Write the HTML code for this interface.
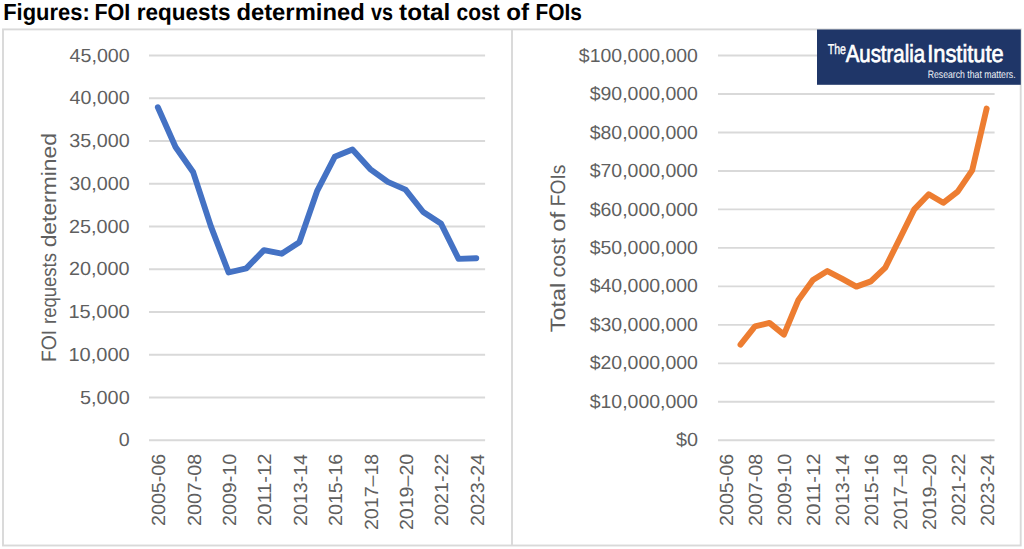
<!DOCTYPE html><html><head><meta charset="utf-8"><style>html,body{margin:0;padding:0;background:#fff;width:1024px;height:549px;overflow:hidden}svg{display:block}text{font-family:"Liberation Sans",sans-serif;text-rendering:geometricPrecision}</style></head><body>
<svg width="1024" height="549" viewBox="0 0 1024 549">
<rect x="0" y="0" width="1024" height="549" fill="#fff"/>
<text x="3.23" y="20.20" font-size="23.4" font-weight="bold" fill="#000" textLength="86.48" lengthAdjust="spacingAndGlyphs">Figures:</text>
<text x="94.46" y="20.20" font-size="23.4" font-weight="bold" fill="#000" textLength="35.88" lengthAdjust="spacingAndGlyphs">FOI</text>
<text x="136.72" y="20.20" font-size="23.4" font-weight="bold" fill="#000" textLength="93.81" lengthAdjust="spacingAndGlyphs">requests</text>
<text x="236.42" y="20.20" font-size="23.4" font-weight="bold" fill="#000" textLength="128.35" lengthAdjust="spacingAndGlyphs">determined</text>
<text x="370.92" y="20.20" font-size="23.4" font-weight="bold" fill="#000" textLength="21.99" lengthAdjust="spacingAndGlyphs">vs</text>
<text x="399.10" y="20.20" font-size="23.4" font-weight="bold" fill="#000" textLength="51.21" lengthAdjust="spacingAndGlyphs">total</text>
<text x="456.58" y="20.20" font-size="23.4" font-weight="bold" fill="#000" textLength="43.07" lengthAdjust="spacingAndGlyphs">cost</text>
<text x="506.26" y="20.20" font-size="23.4" font-weight="bold" fill="#000" textLength="22.80" lengthAdjust="spacingAndGlyphs">of</text>
<text x="535.51" y="20.20" font-size="23.4" font-weight="bold" fill="#000" textLength="46.35" lengthAdjust="spacingAndGlyphs">FOIs</text>
<rect x="3.0" y="29.4" width="1017.7" height="516.1" fill="#fff" stroke="#d9d9d9" stroke-width="1.9"/>
<line x1="512" y1="29.4" x2="512" y2="545.5" stroke="#d9d9d9" stroke-width="1.9"/>
<line x1="149.0" y1="440.30" x2="485.1" y2="440.30" stroke="#d9d9d9" stroke-width="1.9"/>
<text x="118.72" y="446.40" font-size="19" fill="#5f5f5f" textLength="10.95" lengthAdjust="spacingAndGlyphs">0</text>
<line x1="149.0" y1="397.54" x2="485.1" y2="397.54" stroke="#d9d9d9" stroke-width="1.9"/>
<text x="80.04" y="403.64" font-size="19" fill="#5f5f5f" textLength="49.63" lengthAdjust="spacingAndGlyphs">5,000</text>
<line x1="149.0" y1="354.79" x2="485.1" y2="354.79" stroke="#d9d9d9" stroke-width="1.9"/>
<text x="68.50" y="360.89" font-size="19" fill="#5f5f5f" textLength="61.18" lengthAdjust="spacingAndGlyphs">10,000</text>
<line x1="149.0" y1="312.03" x2="485.1" y2="312.03" stroke="#d9d9d9" stroke-width="1.9"/>
<text x="68.50" y="318.13" font-size="19" fill="#5f5f5f" textLength="61.18" lengthAdjust="spacingAndGlyphs">15,000</text>
<line x1="149.0" y1="269.28" x2="485.1" y2="269.28" stroke="#d9d9d9" stroke-width="1.9"/>
<text x="69.03" y="275.38" font-size="19" fill="#5f5f5f" textLength="60.64" lengthAdjust="spacingAndGlyphs">20,000</text>
<line x1="149.0" y1="226.52" x2="485.1" y2="226.52" stroke="#d9d9d9" stroke-width="1.9"/>
<text x="69.03" y="232.62" font-size="19" fill="#5f5f5f" textLength="60.64" lengthAdjust="spacingAndGlyphs">25,000</text>
<line x1="149.0" y1="183.77" x2="485.1" y2="183.77" stroke="#d9d9d9" stroke-width="1.9"/>
<text x="69.28" y="189.87" font-size="19" fill="#5f5f5f" textLength="60.40" lengthAdjust="spacingAndGlyphs">30,000</text>
<line x1="149.0" y1="141.01" x2="485.1" y2="141.01" stroke="#d9d9d9" stroke-width="1.9"/>
<text x="69.28" y="147.11" font-size="19" fill="#5f5f5f" textLength="60.40" lengthAdjust="spacingAndGlyphs">35,000</text>
<line x1="149.0" y1="98.26" x2="485.1" y2="98.26" stroke="#d9d9d9" stroke-width="1.9"/>
<text x="69.58" y="104.36" font-size="19" fill="#5f5f5f" textLength="60.09" lengthAdjust="spacingAndGlyphs">40,000</text>
<line x1="149.0" y1="55.50" x2="485.1" y2="55.50" stroke="#d9d9d9" stroke-width="1.9"/>
<text x="69.58" y="61.60" font-size="19" fill="#5f5f5f" textLength="60.09" lengthAdjust="spacingAndGlyphs">45,000</text>
<line x1="718.0" y1="440.30" x2="994.6" y2="440.30" stroke="#d9d9d9" stroke-width="1.9"/>
<text x="675.97" y="446.40" font-size="19" fill="#5f5f5f" textLength="22.01" lengthAdjust="spacingAndGlyphs">$0</text>
<line x1="718.0" y1="401.82" x2="994.6" y2="401.82" stroke="#d9d9d9" stroke-width="1.9"/>
<text x="589.66" y="407.92" font-size="19" fill="#5f5f5f" textLength="108.30" lengthAdjust="spacingAndGlyphs">$10,000,000</text>
<line x1="718.0" y1="363.34" x2="994.6" y2="363.34" stroke="#d9d9d9" stroke-width="1.9"/>
<text x="589.66" y="369.44" font-size="19" fill="#5f5f5f" textLength="108.30" lengthAdjust="spacingAndGlyphs">$20,000,000</text>
<line x1="718.0" y1="324.86" x2="994.6" y2="324.86" stroke="#d9d9d9" stroke-width="1.9"/>
<text x="589.66" y="330.96" font-size="19" fill="#5f5f5f" textLength="108.30" lengthAdjust="spacingAndGlyphs">$30,000,000</text>
<line x1="718.0" y1="286.38" x2="994.6" y2="286.38" stroke="#d9d9d9" stroke-width="1.9"/>
<text x="589.66" y="292.48" font-size="19" fill="#5f5f5f" textLength="108.30" lengthAdjust="spacingAndGlyphs">$40,000,000</text>
<line x1="718.0" y1="247.90" x2="994.6" y2="247.90" stroke="#d9d9d9" stroke-width="1.9"/>
<text x="589.66" y="254.00" font-size="19" fill="#5f5f5f" textLength="108.30" lengthAdjust="spacingAndGlyphs">$50,000,000</text>
<line x1="718.0" y1="209.42" x2="994.6" y2="209.42" stroke="#d9d9d9" stroke-width="1.9"/>
<text x="589.66" y="215.52" font-size="19" fill="#5f5f5f" textLength="108.30" lengthAdjust="spacingAndGlyphs">$60,000,000</text>
<line x1="718.0" y1="170.94" x2="994.6" y2="170.94" stroke="#d9d9d9" stroke-width="1.9"/>
<text x="589.66" y="177.04" font-size="19" fill="#5f5f5f" textLength="108.30" lengthAdjust="spacingAndGlyphs">$70,000,000</text>
<line x1="718.0" y1="132.46" x2="994.6" y2="132.46" stroke="#d9d9d9" stroke-width="1.9"/>
<text x="589.66" y="138.56" font-size="19" fill="#5f5f5f" textLength="108.30" lengthAdjust="spacingAndGlyphs">$80,000,000</text>
<line x1="718.0" y1="93.98" x2="994.6" y2="93.98" stroke="#d9d9d9" stroke-width="1.9"/>
<text x="589.66" y="100.08" font-size="19" fill="#5f5f5f" textLength="108.30" lengthAdjust="spacingAndGlyphs">$90,000,000</text>
<line x1="718.0" y1="55.50" x2="994.6" y2="55.50" stroke="#d9d9d9" stroke-width="1.9"/>
<text x="578.85" y="61.60" font-size="19" fill="#5f5f5f" textLength="119.11" lengthAdjust="spacingAndGlyphs">$100,000,000</text>
<text transform="translate(165.34,524.99) rotate(-90)" x="-0.99" y="0" font-size="19" fill="#5f5f5f" textLength="72.24" lengthAdjust="spacingAndGlyphs">2005-06</text>
<text transform="translate(733.07,524.99) rotate(-90)" x="-0.99" y="0" font-size="19" fill="#5f5f5f" textLength="72.24" lengthAdjust="spacingAndGlyphs">2005-06</text>
<text transform="translate(200.72,524.99) rotate(-90)" x="-0.99" y="0" font-size="19" fill="#5f5f5f" textLength="72.23" lengthAdjust="spacingAndGlyphs">2007-08</text>
<text transform="translate(762.03,524.99) rotate(-90)" x="-0.99" y="0" font-size="19" fill="#5f5f5f" textLength="72.23" lengthAdjust="spacingAndGlyphs">2007-08</text>
<text transform="translate(236.10,524.99) rotate(-90)" x="-0.99" y="0" font-size="19" fill="#5f5f5f" textLength="72.14" lengthAdjust="spacingAndGlyphs">2009-10</text>
<text transform="translate(790.99,524.99) rotate(-90)" x="-0.99" y="0" font-size="19" fill="#5f5f5f" textLength="72.14" lengthAdjust="spacingAndGlyphs">2009-10</text>
<text transform="translate(271.48,524.99) rotate(-90)" x="-0.99" y="0" font-size="19" fill="#5f5f5f" textLength="72.37" lengthAdjust="spacingAndGlyphs">2011-12</text>
<text transform="translate(819.95,524.99) rotate(-90)" x="-0.99" y="0" font-size="19" fill="#5f5f5f" textLength="72.37" lengthAdjust="spacingAndGlyphs">2011-12</text>
<text transform="translate(306.86,524.99) rotate(-90)" x="-0.99" y="0" font-size="19" fill="#5f5f5f" textLength="71.95" lengthAdjust="spacingAndGlyphs">2013-14</text>
<text transform="translate(848.91,524.99) rotate(-90)" x="-0.99" y="0" font-size="19" fill="#5f5f5f" textLength="71.95" lengthAdjust="spacingAndGlyphs">2013-14</text>
<text transform="translate(342.24,524.99) rotate(-90)" x="-0.99" y="0" font-size="19" fill="#5f5f5f" textLength="72.24" lengthAdjust="spacingAndGlyphs">2015-16</text>
<text transform="translate(877.87,524.99) rotate(-90)" x="-0.99" y="0" font-size="19" fill="#5f5f5f" textLength="72.24" lengthAdjust="spacingAndGlyphs">2015-16</text>
<text transform="translate(377.62,529.08) rotate(-90)" x="-0.99" y="0" font-size="19" fill="#5f5f5f" textLength="76.32" lengthAdjust="spacingAndGlyphs">2017–18</text>
<text transform="translate(906.83,529.08) rotate(-90)" x="-0.99" y="0" font-size="19" fill="#5f5f5f" textLength="76.32" lengthAdjust="spacingAndGlyphs">2017–18</text>
<text transform="translate(413.00,529.08) rotate(-90)" x="-0.98" y="0" font-size="19" fill="#5f5f5f" textLength="76.23" lengthAdjust="spacingAndGlyphs">2019–20</text>
<text transform="translate(935.79,529.08) rotate(-90)" x="-0.98" y="0" font-size="19" fill="#5f5f5f" textLength="76.23" lengthAdjust="spacingAndGlyphs">2019–20</text>
<text transform="translate(448.38,524.99) rotate(-90)" x="-0.99" y="0" font-size="19" fill="#5f5f5f" textLength="72.37" lengthAdjust="spacingAndGlyphs">2021-22</text>
<text transform="translate(964.75,524.99) rotate(-90)" x="-0.99" y="0" font-size="19" fill="#5f5f5f" textLength="72.37" lengthAdjust="spacingAndGlyphs">2021-22</text>
<text transform="translate(483.76,524.99) rotate(-90)" x="-0.99" y="0" font-size="19" fill="#5f5f5f" textLength="71.95" lengthAdjust="spacingAndGlyphs">2023-24</text>
<text transform="translate(993.71,524.99) rotate(-90)" x="-0.99" y="0" font-size="19" fill="#5f5f5f" textLength="71.95" lengthAdjust="spacingAndGlyphs">2023-24</text>
<text transform="translate(56.00,360.50) rotate(-90)" x="-1.59" y="0" font-size="20.8" fill="#5f5f5f" textLength="32.28" lengthAdjust="spacingAndGlyphs">FOI</text>
<text transform="translate(56.00,322.75) rotate(-90)" x="-1.23" y="0" font-size="20.8" fill="#5f5f5f" textLength="70.95" lengthAdjust="spacingAndGlyphs">requests</text>
<text transform="translate(56.00,246.40) rotate(-90)" x="-0.96" y="0" font-size="20.8" fill="#5f5f5f" textLength="114.23" lengthAdjust="spacingAndGlyphs">determined</text>
<text transform="translate(565.10,331.70) rotate(-90)" x="-0.50" y="0" font-size="20.8" fill="#5f5f5f" textLength="49.38" lengthAdjust="spacingAndGlyphs">Total</text>
<text transform="translate(565.10,276.60) rotate(-90)" x="-0.92" y="0" font-size="20.8" fill="#5f5f5f" textLength="39.57" lengthAdjust="spacingAndGlyphs">cost</text>
<text transform="translate(565.10,230.70) rotate(-90)" x="-1.01" y="0" font-size="20.8" fill="#5f5f5f" textLength="19.97" lengthAdjust="spacingAndGlyphs">of</text>
<text transform="translate(565.10,204.60) rotate(-90)" x="-1.57" y="0" font-size="20.8" fill="#5f5f5f" textLength="41.57" lengthAdjust="spacingAndGlyphs">FOIs</text>
<polyline points="157.84,107.30 175.53,147.00 193.22,172.30 210.91,226.40 228.60,272.50 246.29,268.40 263.98,250.10 281.67,253.70 299.36,242.20 317.05,191.20 334.74,156.80 352.43,149.50 370.12,169.10 387.81,181.90 405.50,189.60 423.19,212.00 440.88,223.40 458.57,258.90 476.26,258.20" fill="none" stroke="#4472c4" stroke-width="5.9" stroke-linejoin="round" stroke-linecap="round"/>
<polyline points="740.50,344.60 754.98,326.40 769.46,322.90 783.94,334.60 798.42,299.90 812.90,279.90 827.38,271.10 841.86,278.60 856.34,286.60 870.82,281.40 885.30,267.60 899.78,238.60 914.26,209.40 928.74,194.30 943.22,202.80 957.70,191.60 972.18,170.40 986.66,108.50" fill="none" stroke="#ed7d31" stroke-width="5.9" stroke-linejoin="round" stroke-linecap="round"/>
<rect x="817" y="29.5" width="203.8" height="55.3" fill="#1f3668"/>
<text x="827.66" y="53.60" font-size="14.4" fill="#fff" textLength="18.31" lengthAdjust="spacingAndGlyphs" stroke="#fff" stroke-width="0.35">The</text>
<text x="845.66" y="61.60" font-size="24.6" fill="#fff" textLength="79.44" lengthAdjust="spacingAndGlyphs" stroke="#fff" stroke-width="0.7">Australia</text>
<text x="927.29" y="61.60" font-size="24.6" fill="#fff" textLength="76.38" lengthAdjust="spacingAndGlyphs" stroke="#fff" stroke-width="0.7">Institute</text>
<text x="927.69" y="78.20" font-size="10.8" fill="#f0f3f8" textLength="87.91" lengthAdjust="spacingAndGlyphs">Research that matters.</text>
</svg></body></html>
